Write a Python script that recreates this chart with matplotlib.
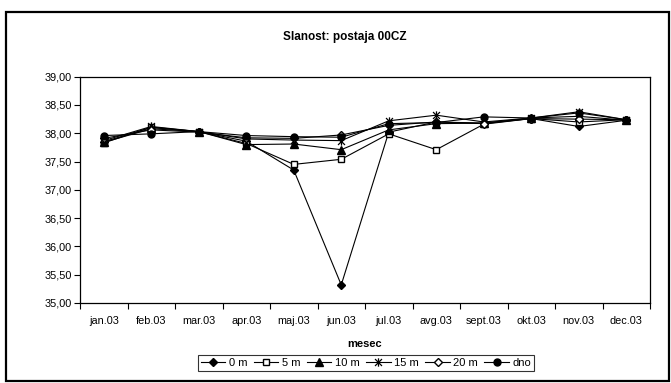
import numpy as np
import matplotlib.pyplot as plt
from matplotlib.path import Path
from matplotlib.patches import Rectangle
from matplotlib.ticker import FuncFormatter, FixedLocator

plt.rcParams['font.family'] = ['Liberation Sans', 'DejaVu Sans']

months = ['jan.03', 'feb.03', 'mar.03', 'apr.03', 'maj.03', 'jun.03',
          'jul.03', 'avg.03', 'sept.03', 'okt.03', 'nov.03', 'dec.03']

s_0m = [37.84, 38.08, 38.03, 37.86, 37.35, 35.32, 38.02, 38.20, 38.18, 38.26, 38.12, 38.23]
s_5m = [37.83, 38.11, 38.03, 37.82, 37.45, 37.54, 37.99, 37.71, 38.16, 38.26, 38.20, 38.24]
s_10m = [37.85, 38.10, 38.03, 37.80, 37.81, 37.71, 38.06, 38.17, 38.18, 38.27, 38.30, 38.23]
s_15m = [37.87, 38.12, 38.03, 37.90, 37.88, 37.87, 38.22, 38.32, 38.20, 38.27, 38.38, 38.24]
s_20m = [37.91, 38.06, 38.02, 37.92, 37.91, 37.97, 38.14, 38.20, 38.17, 38.26, 38.25, 38.24]
s_dno = [37.96, 37.99, 38.03, 37.96, 37.94, 37.93, 38.17, 38.19, 38.29, 38.27, 38.36, 38.24]

# asterisk marker: an x crossed with a vertical bar
star_path = Path(
    [(-1, -1), (1, 1), (-1, 1), (1, -1), (0, -1.2), (0, 1.2)],
    [Path.MOVETO, Path.LINETO, Path.MOVETO, Path.LINETO, Path.MOVETO, Path.LINETO])

series = [
    ('0 m', s_0m, dict(marker='D', ms=4.2, mfc='black')),
    ('5 m', s_5m, dict(marker='s', ms=5, mfc='white')),
    ('10 m', s_10m, dict(marker='^', ms=5.5, mfc='black')),
    ('15 m', s_15m, dict(marker=star_path, ms=6, mfc='none', mew=0.9)),
    ('20 m', s_20m, dict(marker='D', ms=4, mfc='white')),
    ('dno', s_dno, dict(marker='o', ms=5, mfc='black')),
]

fig = plt.figure(figsize=(6.71, 3.83), dpi=100)
ax = fig.add_axes([80 / 671, 1 - 303 / 383, 570 / 671, (303 - 76.7) / 383])

x = np.arange(len(months)) + 0.5
for name, vals, style in series:
    ax.plot(x, vals, color='black', lw=0.8, mec='black', label=name, **style)

ax.set_xlim(0, 12)
ax.set_ylim(35, 39)
ax.set_yticks(np.arange(35, 39.01, 0.5))
ax.yaxis.set_major_formatter(FuncFormatter(lambda v, p: f'{v:.2f}'.replace('.', ',')))

# tick marks sit between months, labels sit on the months
ax.xaxis.set_major_locator(FixedLocator(np.arange(0, 13)))
ax.xaxis.set_minor_locator(FixedLocator(x))
ax.set_xticklabels([])
ax.set_xticklabels(months, minor=True)
ax.tick_params(axis='x', which='major', length=4, width=0.8, direction='out')
ax.tick_params(axis='x', which='minor', length=0, pad=9, labelsize=7.8)
ax.tick_params(axis='y', length=4, width=0.8, direction='out', labelsize=7.8, pad=2)

for sp in ax.spines.values():
    sp.set_linewidth(0.9)

ax.set_xlabel('mesec', fontsize=8, fontweight='bold', labelpad=10)
fig.text(345 / 671, 1 - 37 / 383, 'Slanost: postaja 00CZ', ha='center', va='center',
         fontsize=8.5, fontweight='bold')

leg = fig.legend(loc='center', bbox_to_anchor=(366 / 671, 1 - 363 / 383), ncol=6,
                 fontsize=8, frameon=True, fancybox=False, handlelength=2.2,
                 handletextpad=0.3, columnspacing=0.6, borderpad=0.25,
                 borderaxespad=0)
leg.get_frame().set_edgecolor('black')
leg.get_frame().set_linewidth(0.8)

fig.patches.append(Rectangle((6 / 671, 2 / 383), 663 / 671, 369 / 383,
                             transform=fig.transFigure, fill=False,
                             edgecolor='black', linewidth=1.6))

fig.savefig('out.png', dpi=100)
